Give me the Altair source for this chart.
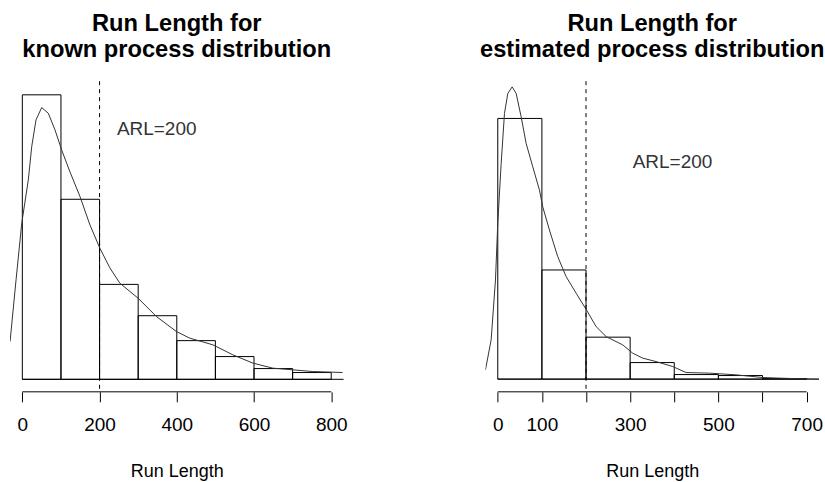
import altair as alt
import pandas as pd

FONT = "Liberation Sans"

# ---------------- data: known process distribution ----------------
known_bin_start = [0, 100, 200, 300, 400, 500, 600, 700]
known_bin_end = [100, 200, 300, 400, 500, 600, 700, 800]
known_density = [0.004052, 0.002564, 0.001352, 0.000906, 0.000551, 0.000324, 0.000153, 0.0000966]

known_curve_x = [-31.8, -16.3, -1.5, 15.5, 24.3, 35.4, 50.1, 67.2, 84.5, 101.8, 123.3, 149.3,
                 175.0, 200.8, 226.6, 252.4, 299.7, 347.3, 399.0, 433.3, 493.5, 545.2, 597.0,
                 648.6, 700.3, 752.0, 829.5]
known_curve_y = [0.000538, 0.001417, 0.002224, 0.002841, 0.003315, 0.003695, 0.00387, 0.00379,
                 0.003553, 0.003267, 0.002955, 0.002603, 0.0022, 0.001868, 0.001588, 0.00137,
                 0.001156, 0.000894, 0.000681, 0.000587, 0.000491, 0.000349, 0.000231, 0.000159,
                 0.000135, 0.000111, 0.000097]

# ---------------- data: estimated process distribution ----------------
est_bin_start = [0, 100, 200, 300, 400, 500, 600]
est_bin_end = [100, 200, 300, 400, 500, 600, 700]
est_density = [0.005963, 0.002497, 0.00096, 0.000379, 0.000105, 0.0000822, 0.0000114]

est_curve_x = [-27.9, -15.0, -5.2, 0.0, 7.7, 15.2, 22.7, 32.6, 41.7, 53.0, 64.3, 79.3, 94.5,
               101.9, 117.1, 135.9, 155.0, 177.6, 201.0, 222.9, 245.6, 283.2, 305.8, 328.5,
               358.9, 396.5, 426.8, 479.6, 540.1, 600.4, 638.2, 691.0, 728.0]
est_curve_y = [0.000212, 0.000898, 0.002269, 0.003564, 0.004935, 0.006077, 0.006534, 0.006685,
               0.006534, 0.006, 0.005392, 0.004857, 0.004325, 0.003943, 0.003411, 0.002801,
               0.002344, 0.001965, 0.001583, 0.001202, 0.000973, 0.000784, 0.000594, 0.00048,
               0.000402, 0.000288, 0.000151, 0.000137, 0.000098, 0.000037, 0.000023, 0.000007, 0.0]

ARL = 200
W, H = 334, 311


def panel(title_lines, starts, ends, dens, cx, cy, xdom, ydom, tick_values, hidden_labels,
          text_x, text_y):
    bars_df = pd.DataFrame({"start": starts, "end": ends, "d": dens, "zero": [0] * len(starts)})
    curve_df = pd.DataFrame({"v": cx, "d": cy, "i": list(range(len(cx)))})
    ref_df = pd.DataFrame({
        "arl": [ARL],
        "ax0": [tick_values[0]], "ax1": [tick_values[-1]],
        "b0": [0], "b1": [xdom[1]], "by": [0],
        "tx": [text_x], "ty": [text_y], "txt": [f"ARL={ARL}"],
    })

    xscale = alt.Scale(domain=xdom, nice=False, zero=False)
    yscale = alt.Scale(domain=ydom, nice=False, zero=False)

    if hidden_labels:
        cond = " || ".join(f"datum.value == {v}" for v in hidden_labels)
        label_expr = f"({cond}) ? '' : datum.label"
    else:
        label_expr = "datum.label"

    xaxis = alt.Axis(values=tick_values, labelExpr=label_expr, title="Run Length",
                     domain=False, grid=False, ticks=True, tickSize=10, tickColor="black",
                     tickWidth=1, labelFont=FONT, labelFontSize=19, labelColor="black",
                     labelPadding=14, labelFlush=False, labelOverlap=False,
                     titleFont=FONT, titleFontSize=18, titleFontWeight="normal",
                     titleColor="black", titlePadding=28)

    bars = alt.Chart(bars_df).mark_rect(fill="white", fillOpacity=0, stroke="black",
                                        strokeWidth=1).encode(
        x=alt.X("start:Q", scale=xscale, axis=xaxis),
        x2="end:Q",
        y=alt.Y("d:Q", scale=yscale, axis=None),
        y2="zero:Q",
    )

    baseline = alt.Chart(ref_df).mark_rule(color="black", strokeWidth=1).encode(
        x=alt.X("b0:Q", title="Run Length"),
        x2="b1:Q",
        y=alt.Y("by:Q", axis=None),
    )

    curve = alt.Chart(curve_df).mark_line(color="#333333", strokeWidth=1, clip=True).encode(
        x=alt.X("v:Q", title="Run Length"),
        y=alt.Y("d:Q", axis=None),
        order="i:Q",
    )

    vline = alt.Chart(ref_df).mark_rule(color="black", strokeWidth=1,
                                        strokeDash=[4, 4]).encode(
        x=alt.X("arl:Q", title="Run Length"),
    )

    axis_line = alt.Chart(ref_df).mark_rule(color="black", strokeWidth=1).encode(
        x=alt.X("ax0:Q", title="Run Length"),
        x2="ax1:Q",
        y=alt.value(H),
    )

    label = alt.Chart(ref_df).mark_text(font=FONT, fontSize=19, color="#333333",
                                        align="center", baseline="middle").encode(
        x=alt.X("tx:Q", title="Run Length"),
        y=alt.Y("ty:Q", axis=None),
        text="txt:N",
    )

    return alt.layer(bars, baseline, curve, vline, axis_line, label).properties(
        width=W, height=H,
        title=alt.TitleParams(text=title_lines, font=FONT, fontSize=23.7, fontWeight="bold",
                              lineHeight=26, offset=19, anchor="middle", color="black"),
    )


left = panel(["Run Length for", "known process distribution"],
             known_bin_start, known_bin_end, known_density, known_curve_x, known_curve_y,
             [-32, 832], [-0.000178, 0.004246], [0, 200, 400, 600, 800], [],
             348, 0.003567)

right = panel(["Run Length for", "estimated process distribution"],
              est_bin_start, est_bin_end, est_density, est_curve_x, est_curve_y,
              [-28, 728], [-0.00029, 0.006815], [0, 100, 200, 300, 400, 500, 600, 700],
              [200, 400, 600], 396, 0.004971)

chart = alt.hconcat(left, right, spacing=142, bounds="flush").properties(
    padding={"left": 10, "top": 11, "right": 0, "bottom": 0},
    background="white",
).configure_view(stroke=None)

chart.save("out.html", embed_options={"renderer": "svg", "actions": False})
